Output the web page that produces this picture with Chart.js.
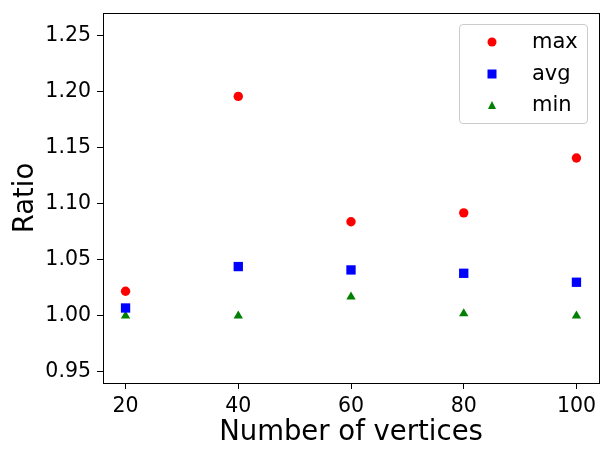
<!DOCTYPE html>
<html>
<head>
<meta charset="utf-8">
<script src="https://cdn.jsdelivr.net/npm/chart.js@4.4.0/dist/chart.umd.min.js"></script>
<style>
  html, body { margin: 0; padding: 0; background: #fff; }
  #wrap { position: relative; width: 612px; height: 456px; }
  #legend {
    position: absolute; left: 459px; top: 24px; width: 127px; height: 98px;
    border: 1px solid #cccccc; border-radius: 4px; background: rgba(255,255,255,0.8);
    font-family: "DejaVu Sans", sans-serif; font-size: 21px; color: #000;
  }
  .row { position: absolute; left: 0; height: 30px; width: 100%; }
  .row span.txt { position: absolute; left: 72px; top: 50%; transform: translateY(-54%); line-height: 1; }
  .mk { position: absolute; left: 32px; top: 50%; transform: translate(-50%, -50%); }
</style>
</head>
<body>
<div id="wrap">
  <canvas id="ratioChart" width="612" height="456"></canvas>
  <div id="legend"></div>
</div>
<script>
// --- dados ---
const vertices = [20, 40, 60, 80, 100];
const maxRatio = [1.022, 1.196, 1.084, 1.092, 1.141];
const avgRatio = [1.007, 1.044, 1.041, 1.038, 1.030];
const minRatio = [1.000, 1.000, 1.017, 1.002, 1.000];
const xTicks = [20, 40, 60, 80, 100];
const yTicks = [0.95, 1.00, 1.05, 1.10, 1.15, 1.20, 1.25];
const seriesLabels = ['max', 'avg', 'min'];

const font = 'DejaVu Sans';

function toPoints(ys) {
    return vertices.map((x, i) => ({ x: x, y: ys[i] }));
}

const series = [
    { label: seriesLabels[0], data: toPoints(maxRatio), color: '#ff0000', style: 'circle', radius: 4.7 },
    { label: seriesLabels[1], data: toPoints(avgRatio), color: '#0000ff', style: 'rect', radius: 6.6 },
    { label: seriesLabels[2], data: toPoints(minRatio), color: '#008000', style: 'triangle', radius: 5.4 }
];

// moldura completa (as 4 bordas)
const framePlugin = {
    id: 'frame',
    beforeDatasetsDraw(chart) {
        const a = chart.chartArea;
        const ctx = chart.ctx;
        ctx.save();
        ctx.strokeStyle = '#000';
        ctx.lineWidth = 1;
        ctx.strokeRect(Math.round(a.left) + 0.5, Math.round(a.top) + 0.5, Math.round(a.right - a.left), Math.round(a.bottom - a.top));
        ctx.restore();
    }
};

const axisFont = { family: font, size: 20.5 };

new Chart(document.getElementById('ratioChart'), {
    type: 'scatter',
    data: {
        datasets: series.map(s => ({
            label: s.label,
            data: s.data,
            backgroundColor: s.color,
            borderColor: s.color,
            borderWidth: 0,
            pointStyle: s.style,
            pointRadius: s.radius,
            pointHoverRadius: s.radius
        }))
    },
    options: {
        responsive: false,
        animation: false,
        layout: { padding: { top: 13, right: 13, left: 0, bottom: 0 } },
        plugins: {
            legend: { display: false },
            tooltip: { enabled: false }
        },
        scales: {
            x: {
                type: 'linear',
                min: 16,
                max: 104,
                afterFit: s => { s.height = 73; s.paddingLeft = 0; s.paddingRight = 0; },
                afterBuildTicks: s => { s.ticks = xTicks.map(v => ({ value: v })); },
                grid: { drawOnChartArea: false, drawTicks: true, tickLength: 6, color: '#000' },
                border: { display: false },
                ticks: { color: '#000', font: axisFont, padding: 5, maxRotation: 0 },
                title: {
                    display: true, text: 'Number of vertices', color: '#000',
                    font: { family: font, size: 27.5, lineHeight: 1.2 }, padding: { top: 0, bottom: 7 }
                }
            },
            y: {
                type: 'linear',
                min: 0.94,
                max: 1.2705,
                afterFit: s => { s.width = 103; s.paddingTop = 0; s.paddingBottom = 0; },
                afterBuildTicks: s => { s.ticks = yTicks.map(v => ({ value: v })); },
                grid: { drawOnChartArea: false, drawTicks: true, tickLength: 6, color: '#000' },
                border: { display: false },
                ticks: { color: '#000', font: axisFont, padding: 6, callback: v => v.toFixed(2) },
                title: {
                    display: true, text: 'Ratio', color: '#000',
                    font: { family: font, size: 27.5, lineHeight: 1.2 }, padding: { top: 9, bottom: 0 }
                }
            }
        }
    },
    plugins: [framePlugin]
});

// legenda em HTML, montada a partir das séries
const legendEl = document.getElementById('legend');
const rowCenters = [17, 48.5, 80];
series.forEach((s, i) => {
    const row = document.createElement('div');
    row.className = 'row';
    row.style.top = (rowCenters[i] - 15) + 'px';
    const mk = document.createElement('div');
    mk.className = 'mk';
    if (s.style === 'circle') {
        mk.style.cssText += 'width:9px;height:9px;border-radius:50%;background:' + s.color;
    } else if (s.style === 'rect') {
        mk.style.cssText += 'width:9px;height:9px;background:' + s.color;
    } else {
        mk.style.cssText += 'width:0;height:0;border-left:4.5px solid transparent;border-right:4.5px solid transparent;border-bottom:8px solid ' + s.color;
    }
    const txt = document.createElement('span');
    txt.className = 'txt';
    txt.textContent = s.label;
    row.appendChild(mk);
    row.appendChild(txt);
    legendEl.appendChild(row);
});
</script>
</body>
</html>
